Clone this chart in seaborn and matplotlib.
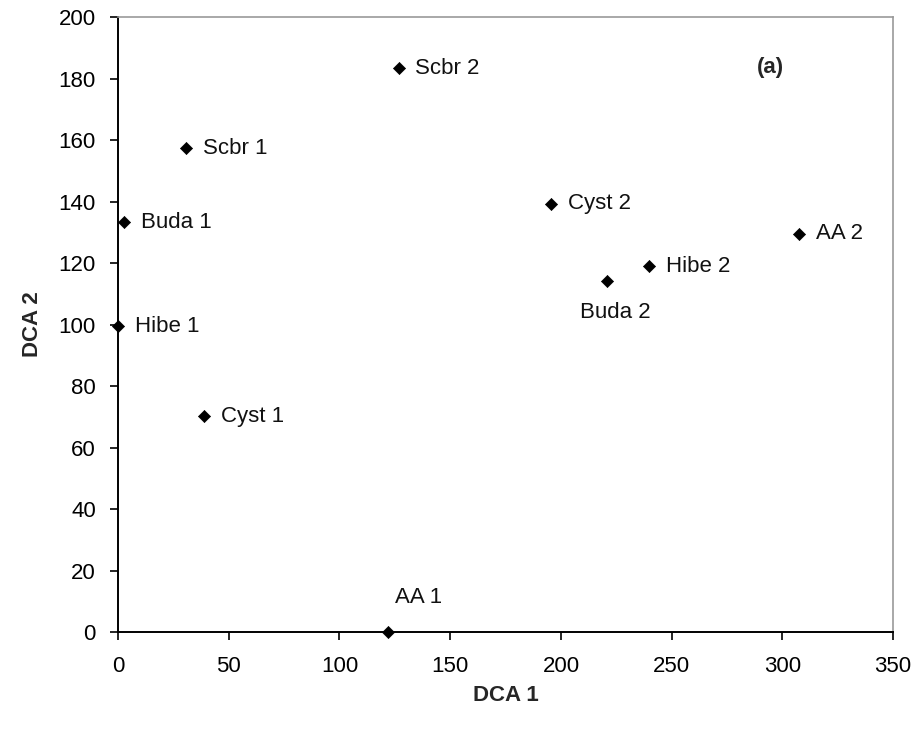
import matplotlib
matplotlib.use("Agg")
import matplotlib.pyplot as plt
import seaborn as sns
import pandas as pd

# DCA ordination scores
sites = ["Scbr 2", "Scbr 1", "Buda 1", "Hibe 1", "Cyst 1",
         "AA 1", "Cyst 2", "Buda 2", "Hibe 2", "AA 2"]
dca1 = [126.7, 30.8, 2.7, 0.0, 38.9, 122.0, 195.5, 220.8, 239.8, 307.7]
dca2 = [183.4, 157.4, 133.3, 99.5, 70.2, 0.0, 139.2, 114.0, 119.0, 129.6]

df = pd.DataFrame({"site": sites, "DCA 1": dca1, "DCA 2": dca2})

sns.set_style("white")
plt.rcParams["font.family"] = ["Liberation Sans", "DejaVu Sans"]

fig = plt.figure(figsize=(9.17, 7.31), dpi=100)
ax = fig.add_axes([0.1287, 0.1354, 0.974 - 0.1287, 0.9767 - 0.1354])

sns.scatterplot(data=df, x="DCA 1", y="DCA 2", marker="D", s=38,
                color="black", edgecolor="black", linewidth=0.5,
                ax=ax, clip_on=False, zorder=5)

# label placement (offset in points from the marker)
offsets = {"AA 1": (5, 25, "left"), "Buda 2": (6, -22, "center")}
for name, x, y in zip(sites, dca1, dca2):
    dx, dy, ha = offsets.get(name, (12, 0, "left"))
    ax.annotate(name, (x, y), xytext=(dx, dy), textcoords="offset points",
                ha=ha, va="center", fontsize=16, color="#111111")

ax.text(294.6, 183.5, "(a)", fontsize=16, fontweight="bold", ha="center", va="center")

ax.set_xlim(0, 350)
ax.set_ylim(0, 200)
ax.set_xticks(range(0, 351, 50))
ax.set_yticks(range(0, 201, 20))
ax.tick_params(axis="both", which="both", direction="out", length=6, width=1.2,
               labelsize=16, colors="black", bottom=True, left=True)
ax.tick_params(axis="x", pad=11)
ax.tick_params(axis="y", pad=10)

ax.set_xlabel("DCA 1", fontsize=16, fontweight="bold", labelpad=6)
ax.set_ylabel("DCA 2", fontsize=16, fontweight="bold", labelpad=11)

for side in ["left", "bottom"]:
    ax.spines[side].set_color("black")
    ax.spines[side].set_linewidth(1.4)
for side in ["top", "right"]:
    ax.spines[side].set_color("#999999")
    ax.spines[side].set_linewidth(1.2)

fig.savefig("out.png", dpi=100)
